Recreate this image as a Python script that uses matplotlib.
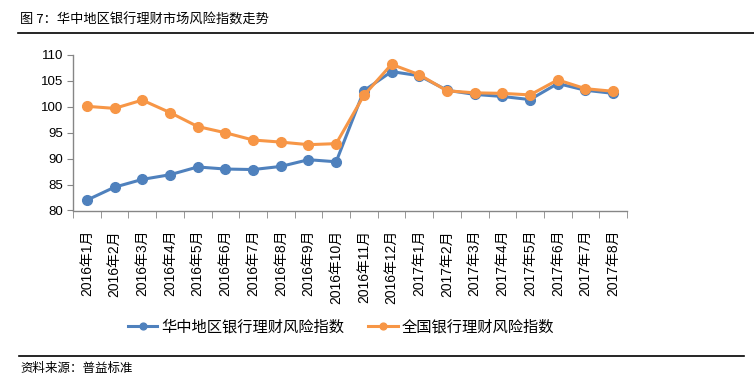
import matplotlib.pyplot as plt
import numpy as np

plt.rcParams['font.family'] = ['Liberation Sans', 'Noto Sans CJK SC', 'DejaVu Sans']

# ---------- 数据 ----------
months = ['2016年1月', '2016年2月', '2016年3月', '2016年4月', '2016年5月', '2016年6月',
          '2016年7月', '2016年8月', '2016年9月', '2016年10月', '2016年11月', '2016年12月',
          '2017年1月', '2017年2月', '2017年3月', '2017年4月', '2017年5月', '2017年6月',
          '2017年7月', '2017年8月']
central = [82.0, 84.5, 86.0, 86.9, 88.4, 88.0, 87.9, 88.5, 89.8, 89.4, 103.1, 106.8,
           106.0, 103.2, 102.4, 102.0, 101.4, 104.5, 103.2, 102.6]
national = [100.1, 99.7, 101.3, 98.9, 96.2, 95.0, 93.6, 93.2, 92.7, 92.9, 102.2, 108.2,
            106.2, 103.1, 102.7, 102.6, 102.3, 105.2, 103.5, 103.0]
name_c = '华中地区银行理财风险指数'
name_n = '全国银行理财风险指数'

blue = '#4F81BD'
orange = '#F79646'
grey = '#868686'

fig = plt.figure(figsize=(7.54, 3.84), dpi=100)
ax = fig.add_axes([73 / 754, 1 - 210.5 / 384, 554 / 754, 155.5 / 384])

x = np.arange(len(months))
ax.plot(x, central, color=blue, lw=2.2, marker='o', ms=7, label=name_c)
ax.plot(x, national, color=orange, lw=2.2, marker='o', ms=7, label=name_n)

ax.set_xlim(-0.5, len(months) - 0.5)
ax.set_ylim(80, 110)
ax.set_yticks(range(80, 111, 5))
ax.set_xticks(x)
ax.set_xticklabels(months, rotation=90, fontsize=10)
ax.set_xticks(np.arange(-0.5, len(months), 1), minor=True)
ax.tick_params(axis='x', which='major', length=0, pad=14)
ax.tick_params(axis='x', which='minor', length=5, color=grey, direction='out')
ax.tick_params(axis='y', length=4, color=grey, labelsize=9.5, pad=3)

for s in ['top', 'right']:
    ax.spines[s].set_visible(False)
for s in ['left', 'bottom']:
    ax.spines[s].set_color(grey)
    ax.spines[s].set_linewidth(1)

leg = ax.legend(loc='center', bbox_to_anchor=(341 / 754, 1 - 327 / 384),
                bbox_transform=fig.transFigure, ncol=2, frameon=False,
                fontsize=11, handlelength=1.9, handletextpad=0.25,
                columnspacing=1.6, markerscale=0.7)

# ---------- 标题与来源 ----------
fig.text(20 / 754, 1 - 20 / 384, '图 7：华中地区银行理财市场风险指数走势',
         fontsize=9.5, va='center', ha='left', family=['Noto Sans CJK SC', 'DejaVu Sans'])
fig.add_artist(plt.Line2D([18 / 754, 1.0], [1 - 33 / 384] * 2, color='black', lw=1.2))
fig.add_artist(plt.Line2D([19 / 754, 744 / 754], [1 - 356 / 384] * 2, color='black', lw=1.2))
fig.text(20 / 754, 1 - 368 / 384, '资料来源：普益标准',
         fontsize=9, va='center', ha='left', family=['Noto Sans CJK SC', 'DejaVu Sans'])

fig.savefig('out.png', dpi=100)
